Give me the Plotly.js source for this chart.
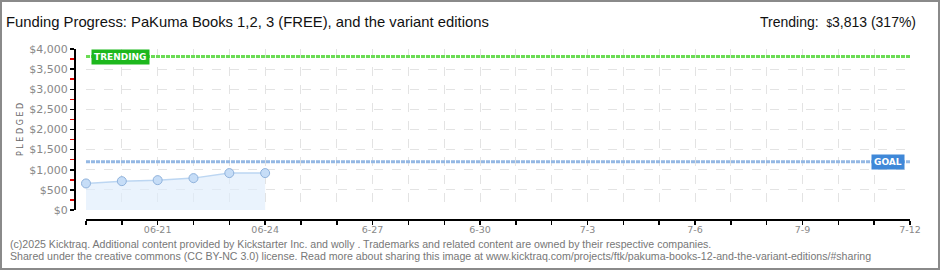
<!DOCTYPE html>
<html>
<head>
<meta charset="utf-8">
<script src="https://cdn.plot.ly/plotly-3.0.1.min.js"></script>
<style>
  html, body { margin: 0; padding: 0; background: #fff; }
  #chart { width: 940px; height: 270px; }
</style>
</head>
<body>
<div id="chart"></div>
<script>
// ---- data ----
var dates = ['2025-06-19', '2025-06-20', '2025-06-21', '2025-06-22', '2025-06-23', '2025-06-24'];
var pledged = [660, 717, 742, 792, 917, 917];
var goalValue = 1200;
var trendValue = 3813;
var trendPercent = 317;
var xRange = ['2025-06-19', '2025-07-12'];
var tickDates = ['2025-06-21', '2025-06-24', '2025-06-27', '2025-06-30', '2025-07-03', '2025-07-06', '2025-07-09', '2025-07-12'];
var tickLabels = ['06-21', '06-24', '6-27', '6-30', '7-3', '7-6', '7-9', '7-12'];
var yTickVals = [0, 500, 1000, 1500, 2000, 2500, 3000, 3500, 4000];
var yTickLabels = ['$0', '$500', '$1,000', '$1,500', '$2,000', '$2,500', '$3,000', '$3,500', '$4,000'];
var titleText = 'Funding Progress: PaKuma Books 1,2, 3 (FREE), and the variant editions';
var footer1 = '(c)2025 Kicktraq. Additional content provided by Kickstarter Inc. and wolly . Trademarks and related content are owned by their respective companies.';
var footer2 = 'Shared under the creative commons (CC BY-NC 3.0) license. Read more about sharing this image at www.kicktraq.com/projects/ftk/pakuma-books-12-and-the-variant-editions/#sharing';

// ---- geometry helpers (pixels -> paper) ----
var W = 940, H = 270, ML = 75, MR = 30, MT = 49, MB = 50;
var PW = W - ML - MR, PH = H - MT - MB;
function px(x) { return (x - ML) / PW; }
function py(y) { return (H - MB - y) / PH; }

var xDomain = [px(86), 1];
var yDomain = [py(210), 1];

var fontMain = 'Liberation Sans, Arial, sans-serif';
var fontTick = 'DejaVu Sans, sans-serif';

var traces = [{
  x: dates,
  y: pledged,
  type: 'scatter',
  mode: 'lines+markers',
  line: { color: '#bcd6f2', width: 1.5 },
  fill: 'tozeroy',
  fillcolor: 'rgba(222,236,252,0.65)',
  marker: { size: 9, color: '#c6ddf7', line: { color: '#8fb2dc', width: 1 } },
  cliponaxis: false,
  hoverinfo: 'skip',
  showlegend: false
}];

var layout = {
  width: W, height: H,
  margin: { l: ML, r: MR, t: MT, b: MB, pad: 0 },
  paper_bgcolor: '#ffffff',
  plot_bgcolor: 'rgba(0,0,0,0)',
  showlegend: false,
  title: {
    text: titleText,
    x: 6 / W, xref: 'container', xanchor: 'left',
    y: 1 - 22 / H, yref: 'container', yanchor: 'middle',
    font: { family: fontMain, size: 14.8, color: '#111' }
  },
  xaxis: {
    type: 'date',
    range: xRange,
    domain: xDomain,
    anchor: 'free', position: 0,
    tickmode: 'array', tickvals: tickDates, ticktext: tickLabels,
    ticks: 'outside', ticklen: 4, tickwidth: 1.5, tickcolor: '#000',
    ticklabelstandoff: -3,
    tickfont: { family: fontTick, size: 9.5, color: '#888' },
    showline: true, linecolor: '#000', linewidth: 2,
    showgrid: true, gridcolor: '#e3e3e3', griddash: 'dash', gridwidth: 1,
    minor: { tick0: xRange[0], dtick: 86400000, ticks: 'outside', ticklen: 4, tickwidth: 1.5, tickcolor: '#000', showgrid: true, gridcolor: '#e3e3e3', griddash: 'dash' },
    zeroline: false, fixedrange: true
  },
  xaxis2: {
    type: 'date', range: xRange, domain: xDomain, overlaying: 'x',
    anchor: 'free', position: 0,
    tickmode: 'array', tickvals: tickDates, showticklabels: false,
    ticks: 'inside', ticklen: 4, tickwidth: 1.5, tickcolor: '#000',
    minor: { tick0: xRange[0], dtick: 86400000, ticks: 'inside', ticklen: 4, tickwidth: 1.5, tickcolor: '#000' },
    showgrid: false, showline: false, zeroline: false
  },
  yaxis: {
    range: [0, 4000],
    domain: yDomain,
    anchor: 'free', position: 0,
    tickmode: 'array', tickvals: yTickVals, ticktext: yTickLabels,
    ticks: 'outside', ticklen: 4, tickwidth: 1.5, tickcolor: '#000',
    tickfont: { family: fontTick, size: 11, color: '#888' },
    showline: true, linecolor: '#000', linewidth: 2,
    showgrid: true, gridcolor: '#e3e3e3', griddash: 'dash', gridwidth: 1,
    minor: { tick0: 250, dtick: 500, ticks: 'outside', ticklen: 4, tickwidth: 1.5, tickcolor: '#e00000', showgrid: false },
    zeroline: false, fixedrange: true
  },
  shapes: [
    { type: 'line', xref: 'x', yref: 'y', x0: xRange[0], x1: xRange[1], y0: trendValue, y1: trendValue,
      line: { color: '#6bdc55', width: 3, dash: '4px,1px' }, layer: 'above' },
    { type: 'line', xref: 'x', yref: 'y', x0: xRange[0], x1: xRange[1], y0: goalValue, y1: goalValue,
      line: { color: '#94b8e4', width: 3, dash: '4px,1px' }, layer: 'above' },
    { type: 'rect', xref: 'paper', yref: 'paper', x0: px(1), x1: px(939), y0: py(269), y1: py(1),
      line: { color: '#8a8a8a', width: 2 }, fillcolor: 'rgba(0,0,0,0)', layer: 'above' }
  ],
  annotations: [
    { text: 'Trending:  <span style="font-size:10px">$</span>' + trendValue.toLocaleString('en-US') + ' (' + trendPercent + '%)',
      xref: 'paper', yref: 'paper', x: px(918), y: py(22), xanchor: 'right', yanchor: 'middle',
      showarrow: false, font: { family: fontMain, size: 14, color: '#111' } },
    { text: '<b>TRENDING</b>', xref: 'paper', yref: 'y', x: px(120.5), y: trendValue,
      xanchor: 'center', yanchor: 'middle', showarrow: false,
      bgcolor: '#1db81d', borderpad: 2, font: { family: fontTick, size: 9, color: '#ffffff' } },
    { text: '<b>GOAL</b>', xref: 'paper', yref: 'y', x: px(888), y: goalValue,
      xanchor: 'center', yanchor: 'middle', showarrow: false,
      bgcolor: '#3f88d8', borderpad: 2, font: { family: fontTick, size: 9, color: '#ffffff' } },
    { text: 'P L E D G E D', xref: 'paper', yref: 'paper', x: px(20), y: py(129), textangle: -90,
      xanchor: 'center', yanchor: 'middle', showarrow: false,
      font: { family: fontTick, size: 8, color: '#666' } },
    { text: footer1, xref: 'paper', yref: 'paper', x: px(8), y: py(244), xanchor: 'left', yanchor: 'middle',
      showarrow: false, font: { family: fontMain, size: 10.6, color: '#777' } },
    { text: footer2, xref: 'paper', yref: 'paper', x: px(8), y: py(256), xanchor: 'left', yanchor: 'middle',
      showarrow: false, font: { family: fontMain, size: 10.6, color: '#777' } }
  ]
};

Plotly.newPlot('chart', traces, layout, { staticPlot: true, displayModeBar: false });
</script>
</body>
</html>
